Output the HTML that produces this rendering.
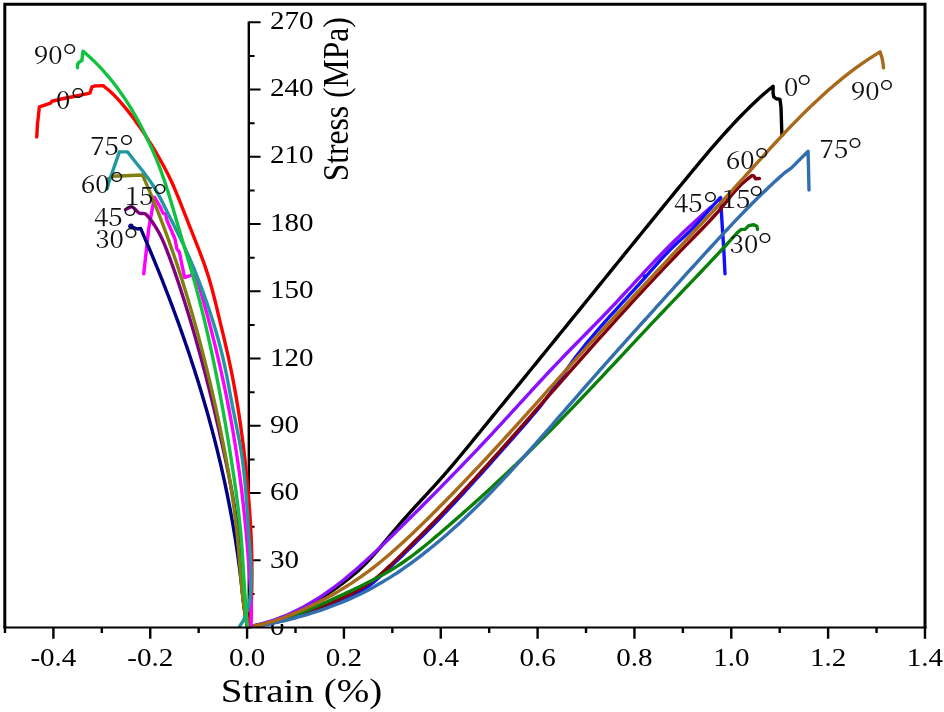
<!DOCTYPE html>
<html lang="en"><head><meta charset="utf-8"><title>Stress-strain curves</title>
<style>html,body{margin:0;padding:0;background:#fff;}svg{display:block;will-change:transform;}.t{font-family:"Liberation Serif","Noto Serif CJK SC",serif;fill:#000;}.a{font-family:"Noto Serif CJK SC","Liberation Serif",serif;font-weight:400;fill:#111;}.d{font-family:"Noto Serif CJK SC","Liberation Serif",serif;font-weight:300;fill:#111;}</style></head><body>
<svg width="944" height="712" viewBox="0 0 944 712">
<rect width="944" height="712" fill="#fff"/>
<defs><clipPath id="z"><rect x="260" y="624" width="40" height="20"/></clipPath></defs>
<text class="t" font-size="25.6" transform="translate(270 567.7) scale(1.135 1)">30</text>
<text class="t" font-size="25.6" transform="translate(270 500.33) scale(1.135 1)">60</text>
<text class="t" font-size="25.6" transform="translate(270 432.95) scale(1.135 1)">90</text>
<text class="t" font-size="25.6" transform="translate(270 365.58) scale(1.135 1)">120</text>
<text class="t" font-size="25.6" transform="translate(270 298.2) scale(1.135 1)">150</text>
<text class="t" font-size="25.6" transform="translate(270 230.83) scale(1.135 1)">180</text>
<text class="t" font-size="25.6" transform="translate(270 163.45) scale(1.135 1)">210</text>
<text class="t" font-size="25.6" transform="translate(270 96.08) scale(1.135 1)">240</text>
<text class="t" font-size="25.6" transform="translate(270 28.7) scale(1.135 1)">270</text>
<g clip-path="url(#z)"><text class="t" font-size="25.6" transform="translate(270 635.08) scale(1.135 1)">0</text></g>
<path d="M248.8 21.4 V627.5" stroke="#000" stroke-width="2.4" fill="none"/>
<path d="M248.8 593.88h5.8M248.8 560.26h11.8M248.8 526.63h5.8M248.8 493.01h11.8M248.8 459.39h5.8M248.8 425.77h11.8M248.8 392.14h5.8M248.8 358.52h11.8M248.8 324.9h5.8M248.8 291.28h11.8M248.8 257.66h5.8M248.8 224.03h11.8M248.8 190.41h5.8M248.8 156.79h11.8M248.8 123.17h5.8M248.8 89.54h11.8M248.8 55.92h5.8M248.8 22.3h11.8" stroke="#000" stroke-width="2" fill="none"/>
<path d="M250 626.5C251.15 626.29 254.6 625.73 256.87 625.26C259.15 624.79 261.42 624.26 263.67 623.69C265.92 623.11 268.16 622.48 270.39 621.81C272.61 621.14 274.82 620.41 277.02 619.65C279.22 618.88 281.4 618.07 283.57 617.21C285.74 616.36 287.9 615.46 290.04 614.53C292.18 613.6 294.31 612.62 296.42 611.62C298.53 610.61 300.63 609.57 302.71 608.49C304.79 607.42 306.86 606.31 308.91 605.17C310.96 604.04 313 602.87 315.02 601.69C317.04 600.5 319.05 599.28 321.03 598.04C323.02 596.8 325 595.54 326.95 594.26C328.91 592.98 330.85 591.68 332.77 590.37C334.7 589.05 336.6 587.72 338.49 586.37C340.38 585.02 342.25 583.65 344.09 582.25C345.94 580.86 347.77 579.44 349.57 577.99C351.37 576.54 353.14 575.07 354.89 573.56C356.64 572.05 358.36 570.51 360.05 568.93C361.75 567.35 363.41 565.74 365.04 564.09C366.67 562.44 368.27 560.75 369.86 559.04C371.44 557.34 373 555.59 374.54 553.84C376.09 552.09 377.61 550.32 379.13 548.54C380.64 546.76 382.14 544.97 383.64 543.18C385.15 541.39 386.64 539.6 388.13 537.82C389.62 536.03 391.11 534.24 392.61 532.46C394.11 530.68 395.6 528.9 397.11 527.13C398.62 525.36 400.13 523.59 401.65 521.83C403.18 520.07 404.72 518.32 406.27 516.57C407.82 514.83 409.38 513.09 410.95 511.36C412.52 509.63 414.09 507.9 415.67 506.17C417.25 504.45 418.84 502.73 420.43 501.01C422.01 499.29 423.6 497.57 425.19 495.85C426.77 494.13 428.36 492.42 429.94 490.7C431.52 488.97 433.09 487.25 434.66 485.52C436.22 483.8 437.78 482.07 439.33 480.33C440.88 478.6 442.41 476.85 443.94 475.11C445.47 473.36 446.99 471.61 448.5 469.86C450.01 468.1 451.51 466.34 453.01 464.58C454.5 462.81 455.99 461.04 457.48 459.27C458.96 457.5 460.44 455.72 461.92 453.94C463.39 452.16 464.86 450.38 466.33 448.6C467.8 446.81 469.27 445.02 470.74 443.23C472.2 441.44 473.66 439.64 475.13 437.85C476.59 436.05 478.06 434.25 479.52 432.45C480.99 430.65 482.45 428.84 483.92 427.04C485.39 425.24 486.87 423.43 488.34 421.62C489.82 419.81 491.3 418 492.78 416.19C494.26 414.38 495.74 412.57 497.22 410.76C498.71 408.95 500.19 407.13 501.68 405.32C503.16 403.51 504.65 401.69 506.14 399.88C507.62 398.07 509.11 396.25 510.59 394.44C512.07 392.63 513.55 390.82 515.04 389C516.52 387.19 518 385.38 519.48 383.57C520.96 381.75 522.44 379.94 523.92 378.13C525.39 376.32 526.87 374.51 528.35 372.7C529.82 370.89 531.3 369.07 532.77 367.26C534.25 365.45 535.72 363.64 537.2 361.83C538.67 360.02 540.14 358.21 541.61 356.4C543.09 354.59 544.56 352.78 546.03 350.97C547.5 349.16 548.97 347.35 550.44 345.55C551.91 343.74 553.38 341.93 554.84 340.12C556.31 338.31 557.78 336.5 559.25 334.69C560.72 332.88 562.18 331.08 563.65 329.27C565.12 327.46 566.58 325.65 568.05 323.84C569.51 322.04 570.98 320.23 572.45 318.42C573.91 316.61 575.38 314.81 576.84 313C578.3 311.19 579.77 309.38 581.23 307.58C582.7 305.77 584.16 303.96 585.63 302.16C587.09 300.35 588.55 298.54 590.02 296.74C591.48 294.93 592.94 293.12 594.41 291.32C595.87 289.51 597.33 287.71 598.8 285.9C600.26 284.09 601.73 282.29 603.19 280.48C604.65 278.68 606.12 276.87 607.58 275.06C609.04 273.26 610.51 271.45 611.97 269.65C613.43 267.84 614.9 266.04 616.36 264.23C617.83 262.43 619.29 260.62 620.76 258.82C622.22 257.01 623.69 255.21 625.15 253.4C626.62 251.6 628.08 249.79 629.55 247.99C631.02 246.18 632.48 244.38 633.95 242.57C635.41 240.77 636.88 238.97 638.35 237.16C639.82 235.36 641.29 233.55 642.75 231.75C644.22 229.94 645.69 228.14 647.16 226.33C648.63 224.53 650.1 222.73 651.57 220.92C653.04 219.12 654.51 217.31 655.99 215.51C657.46 213.71 658.93 211.9 660.41 210.1C661.88 208.29 663.35 206.49 664.83 204.69C666.3 202.88 667.78 201.08 669.25 199.27C670.73 197.47 672.21 195.67 673.69 193.86C675.17 192.06 676.64 190.25 678.12 188.45C679.6 186.65 681.09 184.84 682.57 183.04C684.05 181.23 685.53 179.43 687.02 177.63C688.5 175.82 689.98 174.02 691.47 172.22C692.96 170.42 694.45 168.61 695.94 166.82C697.43 165.02 698.93 163.22 700.43 161.43C701.93 159.64 703.43 157.85 704.94 156.06C706.44 154.28 707.95 152.5 709.47 150.72C710.99 148.95 712.51 147.18 714.03 145.42C715.56 143.65 717.09 141.89 718.63 140.14C720.17 138.39 721.72 136.65 723.27 134.92C724.82 133.18 726.38 131.45 727.95 129.74C729.52 128.02 731.09 126.31 732.68 124.61C734.26 122.91 735.86 121.22 737.46 119.54C739.06 117.87 740.67 116.2 742.3 114.55C743.92 112.89 745.55 111.25 747.19 109.62C748.84 107.99 750.49 106.37 752.16 104.77C753.83 103.16 755.5 101.57 757.2 100C758.9 98.42 760.61 96.86 762.35 95.32C764.09 93.77 765.85 92.25 767.64 90.73C769.43 89.22 772.19 87 773.1 86.25L773.1 93.1L773.75 96.9L776.25 98.75L780 99.4L781 107.5L781.9 135" fill="none" stroke="#000000" stroke-width="3.4" stroke-linejoin="round" stroke-linecap="round"/>
<path d="M250 626.5C251.18 626.25 254.73 625.54 257.06 624.99C259.39 624.44 261.69 623.85 263.97 623.21C266.25 622.57 268.51 621.89 270.74 621.17C272.98 620.45 275.19 619.68 277.38 618.88C279.57 618.08 281.73 617.23 283.88 616.35C286.02 615.47 288.15 614.55 290.25 613.6C292.36 612.65 294.44 611.66 296.51 610.63C298.57 609.61 300.62 608.55 302.64 607.46C304.67 606.37 306.68 605.25 308.67 604.09C310.66 602.94 312.64 601.76 314.6 600.55C316.56 599.34 318.5 598.1 320.42 596.83C322.35 595.56 324.26 594.27 326.16 592.95C328.05 591.64 329.93 590.29 331.8 588.93C333.67 587.56 335.52 586.17 337.36 584.77C339.21 583.36 341.03 581.93 342.85 580.48C344.67 579.03 346.47 577.56 348.27 576.08C350.06 574.59 351.84 573.09 353.62 571.57C355.39 570.05 357.15 568.52 358.91 566.97C360.66 565.42 362.41 563.86 364.14 562.29C365.88 560.72 367.61 559.13 369.33 557.54C371.05 555.95 372.77 554.34 374.48 552.73C376.19 551.12 377.89 549.5 379.59 547.87C381.28 546.25 382.97 544.62 384.66 542.98C386.35 541.35 388.03 539.7 389.71 538.06C391.39 536.42 393.06 534.77 394.74 533.13C396.41 531.48 398.08 529.84 399.75 528.19C401.42 526.55 403.09 524.9 404.75 523.26C406.41 521.61 408.08 519.96 409.74 518.32C411.4 516.67 413.05 515.03 414.71 513.38C416.36 511.73 418.02 510.08 419.67 508.44C421.32 506.79 422.97 505.14 424.61 503.49C426.26 501.84 427.9 500.19 429.55 498.54C431.19 496.89 432.83 495.24 434.47 493.58C436.1 491.93 437.74 490.27 439.37 488.62C441 486.96 442.64 485.31 444.26 483.65C445.89 481.99 447.52 480.33 449.14 478.67C450.77 477.01 452.39 475.34 454.01 473.68C455.63 472.01 457.25 470.35 458.86 468.68C460.48 467.01 462.09 465.34 463.7 463.66C465.31 461.99 466.92 460.32 468.53 458.64C470.14 456.96 471.74 455.28 473.34 453.6C474.95 451.92 476.55 450.23 478.15 448.55C479.74 446.86 481.34 445.17 482.93 443.48C484.53 441.79 486.12 440.09 487.71 438.39C489.3 436.69 490.88 434.99 492.47 433.29C494.05 431.58 495.64 429.88 497.22 428.17C498.8 426.46 500.38 424.74 501.96 423.03C503.53 421.31 505.11 419.6 506.69 417.88C508.26 416.16 509.84 414.44 511.41 412.72C512.99 411 514.56 409.28 516.13 407.55C517.71 405.83 519.28 404.11 520.86 402.38C522.43 400.66 524.01 398.94 525.58 397.22C527.16 395.49 528.74 393.77 530.31 392.05C531.89 390.33 533.47 388.61 535.06 386.89C536.64 385.17 538.22 383.45 539.81 381.74C541.39 380.02 542.98 378.31 544.57 376.6C546.16 374.89 547.76 373.18 549.35 371.48C550.95 369.78 552.55 368.07 554.16 366.38C555.76 364.68 557.37 362.99 558.98 361.3C560.59 359.61 562.21 357.92 563.83 356.24C565.45 354.56 567.07 352.89 568.7 351.21C570.33 349.54 571.96 347.87 573.6 346.21C575.23 344.54 576.87 342.88 578.5 341.22C580.14 339.55 581.78 337.9 583.42 336.24C585.05 334.58 586.69 332.92 588.33 331.26C589.96 329.6 591.6 327.94 593.23 326.28C594.87 324.61 596.5 322.95 598.12 321.28C599.75 319.62 601.37 317.95 602.99 316.28C604.61 314.6 606.22 312.93 607.83 311.25C609.43 309.56 611.04 307.88 612.63 306.19C614.23 304.5 615.82 302.81 617.41 301.11C619 299.41 620.58 297.71 622.16 296.01C623.74 294.31 625.32 292.61 626.9 290.9C628.48 289.2 630.05 287.49 631.63 285.78C633.21 284.08 634.79 282.37 636.36 280.66C637.94 278.96 639.52 277.25 641.1 275.55C642.68 273.85 644.27 272.14 645.85 270.44C647.44 268.74 649.03 267.04 650.63 265.35C652.22 263.65 653.82 261.96 655.43 260.28C657.04 258.59 658.65 256.9 660.27 255.23C661.89 253.55 663.51 251.88 665.15 250.21C666.78 248.54 668.43 246.88 670.08 245.22C671.73 243.57 673.39 241.92 675.07 240.28C676.74 238.64 678.42 237.01 680.12 235.39C681.81 233.76 683.51 232.14 685.22 230.54C686.93 228.93 688.65 227.33 690.36 225.73C692.08 224.14 693.81 222.56 695.53 220.98C697.25 219.4 698.98 217.83 700.7 216.27C702.42 214.71 704.15 213.16 705.86 211.61C707.58 210.07 710.14 207.77 711 207" fill="none" stroke="#8a10ff" stroke-width="3.4" stroke-linejoin="round" stroke-linecap="round"/>
<path d="M250 626.5C251.17 626.37 254.7 626.03 257.03 625.72C259.36 625.41 261.67 625.05 263.97 624.65C266.28 624.25 268.56 623.8 270.84 623.32C273.12 622.84 275.39 622.31 277.65 621.75C279.91 621.2 282.16 620.61 284.41 619.99C286.65 619.37 288.88 618.71 291.11 618.04C293.34 617.37 295.56 616.66 297.78 615.94C300 615.22 302.21 614.48 304.42 613.72C306.63 612.97 308.84 612.19 311.04 611.41C313.24 610.62 315.45 609.83 317.65 609.02C319.85 608.22 322.05 607.41 324.25 606.6C326.46 605.79 328.66 604.97 330.87 604.16C333.07 603.35 335.29 602.55 337.49 601.73C339.69 600.91 341.9 600.09 344.08 599.23C346.25 598.36 348.42 597.49 350.55 596.54C352.67 595.6 354.78 594.62 356.83 593.55C358.88 592.48 360.9 591.35 362.85 590.13C364.8 588.9 366.69 587.58 368.55 586.2C370.41 584.82 372.21 583.35 373.99 581.85C375.78 580.35 377.52 578.79 379.25 577.21C380.99 575.64 382.69 574.03 384.4 572.42C386.11 570.82 387.82 569.2 389.52 567.59C391.23 565.98 392.93 564.37 394.63 562.76C396.33 561.14 398.03 559.53 399.72 557.92C401.42 556.3 403.11 554.69 404.8 553.07C406.48 551.45 408.17 549.83 409.85 548.2C411.53 546.58 413.21 544.95 414.88 543.32C416.55 541.69 418.22 540.05 419.88 538.41C421.54 536.77 423.2 535.12 424.85 533.47C426.5 531.82 428.14 530.16 429.78 528.5C431.42 526.84 433.06 525.17 434.69 523.5C436.32 521.83 437.95 520.16 439.57 518.48C441.19 516.8 442.8 515.11 444.42 513.43C446.03 511.74 447.64 510.04 449.24 508.35C450.85 506.65 452.45 504.95 454.04 503.25C455.64 501.55 457.23 499.84 458.82 498.13C460.41 496.42 462 494.71 463.58 492.99C465.17 491.27 466.75 489.56 468.32 487.83C469.9 486.11 471.47 484.39 473.05 482.66C474.62 480.93 476.19 479.2 477.75 477.47C479.32 475.74 480.89 474.01 482.45 472.27C484.01 470.53 485.57 468.8 487.13 467.06C488.69 465.32 490.25 463.58 491.8 461.83C493.36 460.09 494.91 458.35 496.47 456.6C498.02 454.86 499.57 453.11 501.12 451.37C502.68 449.62 504.23 447.87 505.78 446.12C507.33 444.37 508.88 442.62 510.42 440.88C511.97 439.13 513.52 437.38 515.07 435.63C516.62 433.88 518.17 432.13 519.72 430.38C521.26 428.63 522.81 426.88 524.35 425.12C525.89 423.36 527.43 421.61 528.96 419.84C530.48 418.07 532 416.3 533.5 414.51C535.01 412.73 536.5 410.94 537.97 409.13C539.45 407.32 540.91 405.5 542.34 403.66C543.78 401.82 545.19 399.97 546.59 398.1C547.98 396.23 549.35 394.34 550.71 392.44C552.07 390.54 553.4 388.63 554.74 386.71C556.07 384.8 557.39 382.87 558.72 380.95C560.04 379.03 561.36 377.1 562.69 375.18C564.02 373.25 565.34 371.33 566.69 369.42C568.03 367.52 569.38 365.61 570.75 363.72C572.13 361.84 573.51 359.96 574.92 358.1C576.32 356.24 577.74 354.39 579.18 352.55C580.61 350.71 582.06 348.89 583.52 347.07C584.98 345.25 586.46 343.45 587.94 341.65C589.43 339.85 590.93 338.06 592.43 336.28C593.94 334.5 595.46 332.73 596.99 330.96C598.51 329.19 600.05 327.44 601.59 325.68C603.13 323.93 604.68 322.18 606.23 320.43C607.79 318.69 609.35 316.95 610.91 315.21C612.48 313.48 614.05 311.75 615.62 310.02C617.19 308.28 618.76 306.56 620.34 304.83C621.91 303.1 623.49 301.38 625.07 299.65C626.64 297.92 628.22 296.2 629.79 294.47C631.37 292.74 632.94 291.01 634.51 289.28C636.08 287.55 637.65 285.82 639.21 284.08C640.77 282.35 642.33 280.61 643.88 278.86C645.43 277.12 646.98 275.37 648.52 273.62C650.06 271.87 651.6 270.11 653.14 268.36C654.69 266.61 656.23 264.87 657.78 263.13C659.34 261.4 660.89 259.66 662.47 257.95C664.05 256.24 665.64 254.54 667.25 252.86C668.86 251.18 670.48 249.52 672.14 247.88C673.79 246.25 675.48 244.64 677.18 243.05C678.88 241.46 680.63 239.92 682.35 238.34C684.07 236.76 685.8 235.2 687.48 233.59C689.17 231.97 690.82 230.33 692.44 228.66C694.07 226.98 695.66 225.28 697.23 223.56C698.81 221.84 700.35 220.1 701.9 218.35C703.44 216.61 704.95 214.84 706.48 213.09C708 211.33 709.51 209.57 711.05 207.82C712.59 206.08 714.12 204.33 715.71 202.61C717.31 200.89 719.79 198.35 720.6 197.5L721.25 210L722.5 230L723.75 249L725 273.75" fill="none" stroke="#1010ff" stroke-width="3.4" stroke-linejoin="round" stroke-linecap="round"/>
<path d="M250 626.5C251.16 626.31 254.66 625.77 256.98 625.38C259.3 624.99 261.6 624.59 263.9 624.16C266.2 623.73 268.48 623.28 270.76 622.81C273.04 622.34 275.32 621.84 277.58 621.32C279.84 620.79 282.1 620.24 284.35 619.66C286.6 619.08 288.85 618.47 291.09 617.82C293.33 617.18 295.56 616.5 297.79 615.78C300.02 615.07 302.25 614.31 304.47 613.52C306.69 612.73 308.91 611.89 311.12 611.03C313.34 610.18 315.54 609.28 317.74 608.39C319.94 607.49 322.13 606.56 324.31 605.64C326.49 604.72 328.66 603.79 330.81 602.87C332.97 601.96 335.11 601.05 337.23 600.14C339.36 599.23 341.47 598.34 343.56 597.41C345.65 596.48 347.73 595.54 349.78 594.56C351.83 593.57 353.86 592.57 355.87 591.5C357.88 590.42 359.86 589.31 361.82 588.11C363.78 586.92 365.72 585.65 367.63 584.32C369.54 583 371.42 581.6 373.29 580.16C375.15 578.72 376.99 577.22 378.81 575.69C380.64 574.16 382.44 572.58 384.22 570.98C386.01 569.38 387.77 567.74 389.52 566.1C391.27 564.46 393.01 562.78 394.73 561.12C396.45 559.45 398.16 557.77 399.85 556.1C401.55 554.44 403.23 552.77 404.91 551.12C406.58 549.47 408.25 547.83 409.9 546.2C411.56 544.56 413.21 542.93 414.85 541.3C416.5 539.67 418.14 538.05 419.77 536.41C421.41 534.78 423.04 533.15 424.67 531.5C426.29 529.86 427.92 528.21 429.54 526.56C431.17 524.91 432.79 523.25 434.41 521.59C436.02 519.92 437.64 518.26 439.25 516.58C440.87 514.91 442.48 513.24 444.08 511.56C445.69 509.88 447.3 508.19 448.9 506.5C450.5 504.81 452.11 503.12 453.7 501.42C455.3 499.72 456.9 498.02 458.49 496.32C460.09 494.61 461.68 492.91 463.27 491.19C464.86 489.48 466.45 487.77 468.03 486.05C469.62 484.33 471.2 482.61 472.79 480.89C474.37 479.16 475.95 477.44 477.53 475.71C479.11 473.98 480.68 472.25 482.26 470.51C483.83 468.78 485.41 467.04 486.98 465.3C488.55 463.56 490.12 461.82 491.69 460.08C493.26 458.34 494.82 456.59 496.39 454.84C497.95 453.1 499.52 451.35 501.08 449.6C502.64 447.85 504.2 446.1 505.76 444.35C507.32 442.59 508.88 440.84 510.44 439.09C512 437.33 513.56 435.58 515.11 433.82C516.67 432.06 518.22 430.31 519.77 428.55C521.33 426.79 522.88 425.04 524.43 423.28C525.98 421.52 527.53 419.76 529.08 418C530.63 416.24 532.18 414.49 533.73 412.73C535.28 410.97 536.83 409.21 538.37 407.45C539.92 405.7 541.47 403.94 543.01 402.18C544.56 400.43 546.1 398.67 547.65 396.92C549.19 395.16 550.74 393.4 552.28 391.65C553.83 389.9 555.37 388.14 556.92 386.39C558.46 384.63 560 382.88 561.55 381.13C563.09 379.38 564.64 377.63 566.18 375.87C567.73 374.12 569.27 372.37 570.82 370.62C572.36 368.88 573.91 367.13 575.46 365.38C577 363.63 578.55 361.88 580.1 360.14C581.64 358.39 583.19 356.65 584.74 354.9C586.29 353.16 587.84 351.41 589.39 349.67C590.94 347.93 592.49 346.19 594.05 344.44C595.6 342.7 597.15 340.96 598.71 339.22C600.26 337.49 601.82 335.75 603.38 334.01C604.93 332.28 606.49 330.54 608.05 328.81C609.62 327.07 611.18 325.34 612.74 323.61C614.31 321.87 615.87 320.14 617.44 318.41C619.01 316.68 620.57 314.95 622.15 313.23C623.72 311.5 625.29 309.77 626.87 308.05C628.44 306.32 630.02 304.6 631.6 302.88C633.18 301.16 634.76 299.44 636.34 297.72C637.93 296 639.51 294.28 641.1 292.57C642.69 290.85 644.28 289.13 645.88 287.42C647.47 285.71 649.07 284 650.67 282.29C652.27 280.58 653.87 278.87 655.47 277.16C657.08 275.45 658.69 273.75 660.3 272.05C661.91 270.34 663.53 268.64 665.14 266.94C666.76 265.24 668.38 263.54 670.01 261.85C671.63 260.15 673.26 258.45 674.89 256.76C676.52 255.07 678.15 253.38 679.79 251.69C681.43 250 683.07 248.31 684.72 246.63C686.36 244.94 688.02 243.26 689.67 241.58C691.32 239.89 692.98 238.21 694.63 236.53C696.28 234.85 697.93 233.17 699.57 231.49C701.21 229.8 702.84 228.12 704.46 226.43C706.08 224.74 707.69 223.05 709.28 221.35C710.87 219.65 712.44 217.95 713.99 216.24C715.53 214.52 717.06 212.81 718.56 211.08C720.05 209.35 721.51 207.62 722.96 205.87C724.41 204.12 725.8 202.37 727.23 200.6C728.67 198.83 730.08 197.05 731.56 195.25C733.04 193.46 734.53 191.62 736.13 189.82C737.72 188.03 739.36 186.15 741.12 184.48C742.89 182.81 744.9 181.28 746.7 179.8C748.5 178.32 751.03 176.3 751.9 175.6L753.75 176L755.6 178.75L759.4 178.5" fill="none" stroke="#80000f" stroke-width="3.4" stroke-linejoin="round" stroke-linecap="round"/>
<path d="M250 626.5C251.16 626.34 254.64 625.91 256.94 625.54C259.24 625.17 261.53 624.74 263.81 624.27C266.09 623.8 268.35 623.28 270.61 622.72C272.87 622.16 275.12 621.56 277.36 620.92C279.6 620.28 281.83 619.6 284.05 618.89C286.27 618.18 288.49 617.43 290.69 616.65C292.9 615.88 295.1 615.07 297.29 614.25C299.48 613.42 301.67 612.56 303.85 611.69C306.03 610.82 308.2 609.92 310.37 609.01C312.54 608.1 314.7 607.17 316.86 606.23C319.01 605.3 321.17 604.34 323.32 603.39C325.47 602.43 327.61 601.47 329.76 600.5C331.9 599.54 334.04 598.57 336.18 597.6C338.31 596.63 340.45 595.65 342.58 594.68C344.71 593.7 346.83 592.72 348.95 591.73C351.07 590.75 353.18 589.75 355.29 588.75C357.4 587.75 359.5 586.73 361.59 585.71C363.68 584.69 365.76 583.65 367.83 582.6C369.91 581.56 371.97 580.5 374.02 579.42C376.07 578.34 378.12 577.25 380.15 576.13C382.18 575.02 384.2 573.89 386.2 572.74C388.2 571.59 390.2 570.42 392.17 569.22C394.15 568.03 396.12 566.82 398.06 565.57C400.01 564.32 401.94 563.04 403.86 561.73C405.77 560.42 407.67 559.07 409.56 557.7C411.44 556.33 413.31 554.92 415.17 553.5C417.03 552.08 418.88 550.63 420.71 549.17C422.55 547.7 424.37 546.22 426.19 544.72C428.01 543.23 429.82 541.72 431.62 540.2C433.42 538.69 435.21 537.16 437 535.63C438.79 534.11 440.58 532.57 442.36 531.04C444.14 529.51 445.91 527.98 447.69 526.45C449.46 524.92 451.23 523.39 452.99 521.85C454.76 520.32 456.52 518.78 458.28 517.25C460.03 515.71 461.79 514.17 463.54 512.63C465.28 511.09 467.03 509.55 468.77 508.01C470.52 506.46 472.25 504.92 473.99 503.37C475.72 501.82 477.46 500.26 479.18 498.71C480.91 497.15 482.64 495.59 484.36 494.03C486.08 492.46 487.79 490.9 489.51 489.33C491.22 487.75 492.93 486.18 494.64 484.6C496.35 483.02 498.05 481.43 499.75 479.84C501.45 478.25 503.15 476.66 504.84 475.06C506.54 473.46 508.23 471.86 509.92 470.25C511.6 468.64 513.29 467.03 514.97 465.41C516.65 463.8 518.33 462.18 520.01 460.55C521.68 458.93 523.35 457.3 525.02 455.67C526.69 454.04 528.36 452.4 530.02 450.77C531.69 449.13 533.35 447.49 535.01 445.84C536.66 444.2 538.32 442.55 539.97 440.9C541.63 439.24 543.28 437.59 544.92 435.93C546.57 434.27 548.22 432.61 549.86 430.95C551.5 429.29 553.14 427.62 554.78 425.95C556.41 424.28 558.05 422.61 559.68 420.94C561.31 419.26 562.94 417.59 564.57 415.91C566.2 414.23 567.82 412.55 569.45 410.87C571.07 409.18 572.69 407.5 574.31 405.81C575.93 404.13 577.54 402.44 579.16 400.75C580.77 399.06 582.38 397.37 583.99 395.67C585.6 393.98 587.21 392.29 588.82 390.59C590.42 388.89 592.03 387.2 593.63 385.5C595.23 383.8 596.84 382.1 598.44 380.4C600.04 378.7 601.64 377 603.23 375.3C604.83 373.6 606.43 371.89 608.02 370.19C609.62 368.49 611.22 366.78 612.81 365.08C614.41 363.37 616 361.67 617.59 359.97C619.19 358.26 620.78 356.56 622.37 354.85C623.97 353.15 625.56 351.44 627.15 349.74C628.75 348.03 630.34 346.33 631.94 344.62C633.53 342.92 635.12 341.21 636.72 339.51C638.31 337.81 639.91 336.1 641.51 334.4C643.1 332.7 644.7 331 646.3 329.3C647.9 327.6 649.5 325.9 651.1 324.2C652.7 322.5 654.3 320.8 655.9 319.11C657.5 317.41 659.11 315.72 660.72 314.02C662.32 312.33 663.93 310.64 665.54 308.95C667.15 307.26 668.76 305.57 670.37 303.88C671.99 302.19 673.6 300.5 675.21 298.82C676.83 297.13 678.44 295.44 680.05 293.75C681.67 292.07 683.28 290.38 684.9 288.69C686.51 287.01 688.13 285.32 689.74 283.63C691.35 281.94 692.96 280.26 694.58 278.57C696.19 276.88 697.8 275.19 699.4 273.5C701.01 271.81 702.62 270.11 704.23 268.42C705.83 266.72 707.43 265.03 709.03 263.33C710.63 261.63 712.23 259.94 713.83 258.23C715.42 256.53 717.02 254.83 718.61 253.12C720.2 251.42 721.78 249.71 723.36 247.99C724.95 246.28 726.53 244.57 728.1 242.85C729.68 241.13 731.25 239.41 732.81 237.69C734.38 235.96 736.72 233.36 737.5 232.5L741.25 229.4L745 229.4L748.75 225.6L753.75 224.75L756.9 226.25L757.5 229.4" fill="none" stroke="#0a800a" stroke-width="3.4" stroke-linejoin="round" stroke-linecap="round"/>
<path d="M250 626.5C251.18 626.37 254.71 626.04 257.06 625.75C259.41 625.46 261.75 625.12 264.08 624.76C266.41 624.39 268.74 623.98 271.06 623.55C273.38 623.11 275.69 622.64 277.99 622.14C280.29 621.64 282.59 621.11 284.88 620.56C287.17 620.01 289.45 619.43 291.72 618.84C293.99 618.24 296.25 617.62 298.51 616.98C300.77 616.35 303.02 615.69 305.26 615.03C307.49 614.36 309.73 613.68 311.95 612.98C314.17 612.28 316.39 611.57 318.59 610.84C320.8 610.11 323 609.36 325.19 608.59C327.38 607.83 329.56 607.04 331.73 606.23C333.9 605.43 336.06 604.6 338.21 603.75C340.37 602.9 342.51 602.04 344.64 601.14C346.78 600.25 348.9 599.33 351.02 598.39C353.14 597.45 355.24 596.48 357.34 595.49C359.44 594.5 361.52 593.48 363.6 592.43C365.68 591.39 367.74 590.31 369.8 589.21C371.86 588.11 373.91 586.99 375.94 585.84C377.98 584.69 380.01 583.51 382.02 582.32C384.04 581.12 386.05 579.9 388.04 578.66C390.04 577.42 392.02 576.15 394 574.87C395.97 573.59 397.94 572.29 399.89 570.97C401.84 569.64 403.79 568.3 405.72 566.95C407.65 565.59 409.57 564.22 411.48 562.83C413.39 561.44 415.28 560.04 417.17 558.62C419.06 557.2 420.93 555.77 422.79 554.32C424.66 552.88 426.51 551.42 428.35 549.95C430.19 548.48 432.02 547 433.84 545.51C435.65 544.02 437.46 542.52 439.25 541.01C441.05 539.5 442.83 537.97 444.61 536.44C446.38 534.91 448.15 533.37 449.9 531.82C451.66 530.26 453.4 528.7 455.14 527.13C456.87 525.56 458.6 523.98 460.31 522.4C462.03 520.81 463.74 519.21 465.44 517.61C467.14 516 468.83 514.39 470.51 512.77C472.2 511.14 473.87 509.52 475.54 507.88C477.21 506.24 478.87 504.6 480.52 502.95C482.18 501.3 483.82 499.64 485.46 497.97C487.1 496.31 488.74 494.64 490.36 492.96C491.99 491.28 493.61 489.6 495.23 487.91C496.84 486.22 498.45 484.52 500.06 482.82C501.66 481.12 503.26 479.42 504.86 477.7C506.45 475.99 508.04 474.28 509.63 472.56C511.21 470.84 512.8 469.11 514.37 467.38C515.95 465.65 517.53 463.92 519.1 462.18C520.67 460.45 522.24 458.7 523.8 456.96C525.36 455.22 526.93 453.47 528.48 451.72C530.04 449.97 531.6 448.21 533.15 446.46C534.71 444.7 536.26 442.95 537.81 441.19C539.36 439.43 540.91 437.66 542.45 435.9C544 434.14 545.54 432.37 547.09 430.6C548.63 428.84 550.17 427.07 551.71 425.3C553.25 423.53 554.79 421.76 556.33 419.99C557.87 418.22 559.41 416.45 560.95 414.68C562.49 412.91 564.02 411.14 565.56 409.37C567.1 407.6 568.64 405.83 570.18 404.06C571.71 402.3 573.25 400.53 574.79 398.76C576.33 397 577.87 395.23 579.42 393.47C580.96 391.7 582.5 389.94 584.04 388.18C585.59 386.42 587.13 384.66 588.67 382.9C590.22 381.14 591.77 379.38 593.31 377.63C594.86 375.87 596.41 374.11 597.96 372.36C599.51 370.61 601.06 368.85 602.61 367.1C604.16 365.35 605.72 363.6 607.27 361.85C608.83 360.09 610.38 358.35 611.94 356.6C613.5 354.85 615.06 353.1 616.62 351.35C618.18 349.61 619.74 347.86 621.3 346.12C622.86 344.37 624.42 342.63 625.99 340.88C627.55 339.14 629.11 337.4 630.68 335.66C632.24 333.91 633.81 332.17 635.37 330.43C636.94 328.69 638.5 326.95 640.07 325.21C641.63 323.47 643.2 321.74 644.77 320C646.33 318.26 647.9 316.52 649.46 314.79C651.03 313.05 652.59 311.31 654.16 309.58C655.72 307.84 657.29 306.11 658.85 304.37C660.42 302.64 661.98 300.9 663.55 299.17C665.11 297.44 666.68 295.7 668.24 293.97C669.81 292.24 671.37 290.51 672.94 288.77C674.51 287.04 676.07 285.31 677.64 283.58C679.21 281.85 680.78 280.11 682.34 278.38C683.91 276.65 685.48 274.92 687.05 273.19C688.63 271.46 690.2 269.73 691.77 268C693.34 266.27 694.92 264.54 696.5 262.81C698.07 261.08 699.65 259.35 701.23 257.62C702.81 255.89 704.39 254.16 705.97 252.43C707.55 250.7 709.13 248.97 710.72 247.24C712.31 245.51 713.89 243.78 715.48 242.06C717.07 240.33 718.67 238.6 720.26 236.88C721.86 235.15 723.46 233.43 725.06 231.71C726.66 229.99 728.27 228.27 729.88 226.56C731.49 224.85 733.1 223.14 734.72 221.43C736.34 219.73 737.96 218.03 739.58 216.33C741.21 214.64 742.84 212.95 744.48 211.27C746.12 209.58 747.76 207.91 749.4 206.24C751.05 204.57 752.71 202.9 754.36 201.25C756.02 199.59 757.69 197.95 759.36 196.31C761.03 194.67 762.71 193.04 764.4 191.42C766.09 189.8 767.78 188.19 769.48 186.59C771.18 184.99 772.89 183.4 774.6 181.83C776.32 180.25 778.04 178.68 779.78 177.13C781.51 175.57 784.13 173.27 785 172.5L791.25 168.1L808.1 151.25L809 190" fill="none" stroke="#336fae" stroke-width="3.4" stroke-linejoin="round" stroke-linecap="round"/>
<path d="M250 626.5C251.17 626.31 254.68 625.78 256.99 625.34C259.31 624.89 261.62 624.38 263.91 623.82C266.2 623.26 268.48 622.64 270.74 621.98C273 621.32 275.26 620.6 277.49 619.85C279.73 619.11 281.95 618.31 284.16 617.49C286.37 616.66 288.57 615.8 290.75 614.91C292.94 614.03 295.11 613.11 297.27 612.17C299.42 611.23 301.57 610.27 303.7 609.29C305.83 608.32 307.95 607.32 310.05 606.32C312.16 605.31 314.25 604.29 316.33 603.24C318.41 602.2 320.47 601.15 322.53 600.07C324.58 599 326.62 597.91 328.65 596.8C330.68 595.69 332.69 594.56 334.69 593.41C336.7 592.27 338.68 591.1 340.66 589.91C342.64 588.73 344.6 587.52 346.55 586.3C348.51 585.07 350.45 583.83 352.37 582.56C354.3 581.29 356.21 580 358.12 578.69C360.02 577.38 361.91 576.05 363.78 574.69C365.66 573.34 367.53 571.96 369.38 570.57C371.23 569.17 373.08 567.75 374.91 566.31C376.74 564.88 378.56 563.42 380.37 561.95C382.18 560.47 383.98 558.98 385.77 557.48C387.56 555.97 389.34 554.45 391.11 552.92C392.88 551.38 394.64 549.83 396.4 548.27C398.15 546.71 399.9 545.13 401.63 543.55C403.37 541.96 405.1 540.37 406.83 538.76C408.55 537.16 410.26 535.55 411.97 533.92C413.68 532.3 415.38 530.67 417.08 529.04C418.78 527.41 420.47 525.77 422.15 524.12C423.84 522.48 425.52 520.83 427.19 519.18C428.87 517.53 430.54 515.87 432.21 514.22C433.87 512.56 435.53 510.9 437.19 509.24C438.85 507.58 440.5 505.92 442.15 504.25C443.8 502.59 445.45 500.92 447.09 499.25C448.73 497.58 450.36 495.9 452 494.23C453.63 492.55 455.26 490.88 456.89 489.2C458.51 487.52 460.14 485.84 461.76 484.15C463.38 482.47 464.99 480.78 466.6 479.09C468.22 477.41 469.83 475.72 471.43 474.02C473.04 472.33 474.64 470.64 476.24 468.94C477.85 467.24 479.44 465.54 481.04 463.84C482.63 462.14 484.23 460.44 485.82 458.73C487.41 457.03 489 455.32 490.58 453.61C492.17 451.9 493.75 450.19 495.33 448.48C496.91 446.76 498.49 445.05 500.07 443.33C501.65 441.62 503.22 439.9 504.8 438.18C506.37 436.45 507.94 434.73 509.51 433.01C511.08 431.28 512.65 429.56 514.22 427.83C515.79 426.1 517.35 424.37 518.92 422.64C520.48 420.91 522.05 419.17 523.61 417.44C525.18 415.7 526.74 413.97 528.3 412.23C529.86 410.5 531.42 408.76 532.98 407.02C534.54 405.28 536.1 403.54 537.66 401.8C539.22 400.06 540.78 398.32 542.33 396.58C543.89 394.84 545.45 393.1 547.01 391.35C548.57 389.61 550.12 387.87 551.68 386.13C553.24 384.39 554.8 382.64 556.36 380.9C557.92 379.16 559.48 377.42 561.03 375.68C562.59 373.94 564.15 372.19 565.71 370.45C567.28 368.71 568.84 366.98 570.4 365.24C571.96 363.5 573.52 361.76 575.09 360.02C576.65 358.29 578.22 356.55 579.78 354.82C581.35 353.08 582.92 351.35 584.49 349.62C586.05 347.89 587.63 346.16 589.2 344.43C590.77 342.7 592.34 340.98 593.92 339.25C595.49 337.53 597.07 335.8 598.65 334.08C600.22 332.36 601.8 330.64 603.38 328.92C604.96 327.2 606.54 325.48 608.13 323.77C609.71 322.05 611.29 320.33 612.88 318.62C614.46 316.91 616.05 315.19 617.64 313.48C619.22 311.77 620.81 310.06 622.4 308.35C623.99 306.64 625.58 304.93 627.17 303.22C628.76 301.51 630.35 299.8 631.94 298.09C633.53 296.38 635.12 294.68 636.71 292.97C638.31 291.27 639.9 289.56 641.49 287.85C643.09 286.15 644.68 284.44 646.28 282.74C647.87 281.03 649.47 279.33 651.06 277.63C652.66 275.92 654.25 274.22 655.85 272.51C657.44 270.81 659.04 269.11 660.64 267.4C662.23 265.7 663.83 264 665.43 262.29C667.02 260.59 668.62 258.88 670.21 257.18C671.81 255.48 673.41 253.77 675 252.07C676.6 250.36 678.19 248.66 679.79 246.95C681.38 245.24 682.98 243.54 684.57 241.83C686.17 240.13 687.76 238.42 689.36 236.71C690.95 235 692.54 233.29 694.14 231.58C695.73 229.87 697.32 228.16 698.91 226.45C700.51 224.74 702.1 223.03 703.69 221.32C705.28 219.6 706.87 217.89 708.46 216.17C710.04 214.46 711.63 212.74 713.22 211.02C714.81 209.31 716.39 207.59 717.98 205.87C719.56 204.15 721.15 202.43 722.73 200.7C724.31 198.98 725.89 197.26 727.47 195.53C729.05 193.8 730.63 192.08 732.21 190.35C733.79 188.62 735.37 186.89 736.94 185.15C738.52 183.42 740.09 181.69 741.66 179.95C743.24 178.21 744.81 176.48 746.38 174.74C747.95 173 749.52 171.26 751.09 169.52C752.66 167.78 754.23 166.04 755.8 164.3C757.37 162.56 758.94 160.82 760.51 159.08C762.08 157.34 763.65 155.6 765.23 153.87C766.81 152.14 768.38 150.4 769.97 148.68C771.55 146.95 773.13 145.22 774.72 143.5C776.31 141.78 777.9 140.06 779.49 138.35C781.09 136.64 782.69 134.93 784.29 133.23C785.89 131.53 787.5 129.84 789.12 128.15C790.73 126.46 792.36 124.77 793.98 123.1C795.61 121.43 797.24 119.76 798.89 118.1C800.53 116.44 802.17 114.79 803.83 113.15C805.49 111.51 807.15 109.87 808.82 108.25C810.5 106.63 812.18 105.02 813.87 103.41C815.56 101.81 817.26 100.22 818.97 98.64C820.68 97.06 822.4 95.49 824.13 93.94C825.86 92.39 827.6 90.84 829.35 89.31C831.11 87.79 832.87 86.27 834.65 84.77C836.42 83.27 838.21 81.78 840.02 80.31C841.82 78.84 843.63 77.38 845.46 75.94C847.29 74.5 849.13 73.07 850.99 71.66C852.84 70.25 854.71 68.86 856.6 67.49C858.49 66.11 860.39 64.76 862.3 63.42C864.22 62.08 866.15 60.76 868.1 59.46C870.05 58.16 872.02 56.88 874 55.62C875.98 54.36 879 52.52 880 51.9L881.9 57.5L883.1 63.75L883.5 67.75" fill="none" stroke="#a8691b" stroke-width="3.4" stroke-linejoin="round" stroke-linecap="round"/>
<path d="M36.75 137L37.5 124L39.4 106.9L50.6 103.1L51.9 101.25L62.5 98.75L75 96.25L90 93.1L91.9 86.9L95 85.9L103.1 85.6C104.05 86.38 106.99 88.7 108.81 90.29C110.62 91.88 112.34 93.5 114.01 95.15C115.67 96.8 117.26 98.47 118.81 100.17C120.36 101.86 121.84 103.59 123.31 105.33C124.78 107.08 126.2 108.85 127.62 110.64C129.04 112.43 130.44 114.25 131.82 116.08C133.21 117.91 134.58 119.77 135.93 121.64C137.29 123.51 138.63 125.41 139.95 127.31C141.27 129.22 142.58 131.15 143.88 133.09C145.17 135.03 146.45 136.99 147.71 138.97C148.97 140.94 150.22 142.93 151.45 144.92C152.68 146.92 153.9 148.94 155.1 150.96C156.3 152.98 157.49 155.02 158.66 157.06C159.83 159.11 160.98 161.16 162.12 163.23C163.25 165.29 164.38 167.36 165.47 169.44C166.56 171.52 167.64 173.61 168.67 175.71C169.71 177.81 170.72 179.91 171.7 182.02C172.67 184.14 173.6 186.26 174.51 188.38C175.42 190.51 176.29 192.64 177.16 194.78C178.03 196.92 178.87 199.07 179.72 201.22C180.58 203.37 181.43 205.53 182.29 207.7C183.15 209.86 184.01 212.03 184.87 214.2C185.74 216.38 186.6 218.56 187.47 220.74C188.34 222.93 189.21 225.11 190.07 227.31C190.94 229.5 191.81 231.7 192.68 233.9C193.55 236.09 194.42 238.3 195.29 240.51C196.15 242.71 197.02 244.92 197.88 247.13C198.74 249.35 199.6 251.56 200.44 253.78C201.28 256 202.12 258.22 202.93 260.44C203.74 262.67 204.54 264.89 205.31 267.12C206.08 269.35 206.83 271.58 207.54 273.82C208.26 276.05 208.94 278.29 209.61 280.53C210.27 282.76 210.9 285.01 211.52 287.25C212.14 289.49 212.74 291.74 213.32 293.99C213.9 296.24 214.47 298.49 215.03 300.74C215.59 303 216.13 305.25 216.68 307.51C217.22 309.77 217.76 312.03 218.3 314.29C218.84 316.56 219.38 318.82 219.92 321.09C220.46 323.36 221.01 325.62 221.55 327.9C222.1 330.17 222.64 332.44 223.18 334.72C223.72 336.99 224.26 339.27 224.79 341.55C225.33 343.83 225.86 346.11 226.38 348.39C226.9 350.67 227.42 352.96 227.93 355.24C228.44 357.53 228.94 359.82 229.43 362.11C229.92 364.4 230.41 366.69 230.88 368.99C231.35 371.28 231.81 373.57 232.26 375.87C232.71 378.17 233.16 380.47 233.59 382.77C234.02 385.07 234.45 387.37 234.86 389.67C235.28 391.97 235.68 394.28 236.08 396.58C236.48 398.89 236.87 401.19 237.25 403.5C237.63 405.81 238 408.12 238.36 410.43C238.73 412.74 239.08 415.06 239.43 417.37C239.78 419.68 240.12 422 240.45 424.31C240.78 426.63 241.1 428.94 241.42 431.26C241.74 433.58 242.05 435.9 242.35 438.22C242.65 440.54 242.94 442.86 243.23 445.18C243.52 447.5 243.8 449.83 244.08 452.15C244.35 454.47 244.62 456.8 244.88 459.12C245.14 461.45 245.4 463.78 245.64 466.1C245.89 468.43 246.13 470.76 246.37 473.08C246.6 475.41 246.83 477.74 247.06 480.07C247.28 482.4 247.49 484.73 247.7 487.06C247.91 489.39 248.12 491.72 248.31 494.05C248.51 496.39 248.7 498.72 248.88 501.05C249.07 503.38 249.25 505.72 249.42 508.05C249.59 510.38 249.75 512.72 249.91 515.05C250.06 517.38 250.21 519.72 250.35 522.05C250.49 524.39 250.62 526.72 250.75 529.05C250.87 531.39 250.99 533.72 251.09 536.06C251.2 538.39 251.3 540.73 251.38 543.06C251.47 545.4 251.55 547.73 251.62 550.07C251.69 552.4 251.74 554.74 251.79 557.07C251.84 559.41 251.88 561.74 251.9 564.07C251.93 566.41 251.95 568.74 251.95 571.08C251.96 573.41 251.95 575.74 251.93 578.08C251.91 580.41 251.88 582.74 251.84 585.08C251.79 587.41 251.74 589.74 251.67 592.07C251.6 594.4 251.52 596.73 251.43 599.06C251.33 601.39 251.24 603.72 251.1 606.05C250.95 608.38 250.81 610.71 250.56 613.04C250.31 615.37 250.03 617.7 249.61 620.02C249.18 622.35 248.27 625.84 248 627" fill="none" stroke="#ff0000" stroke-width="3.4" stroke-linejoin="round" stroke-linecap="round"/>
<path d="M143.75 273.75L148.75 228.5L154.4 197.1L160 206.5L163.1 213.4L165.6 214L166.9 220.25L171.25 230.25L175 239L176.9 249L179.4 252.1L181.25 261.5L184.6 277.3L192 275.1L196 276.5L198.7 284.8C199.03 285.93 200.03 289.32 200.68 291.58C201.34 293.84 201.99 296.1 202.63 298.37C203.28 300.63 203.92 302.9 204.55 305.17C205.18 307.44 205.8 309.71 206.42 311.98C207.04 314.25 207.66 316.53 208.26 318.8C208.87 321.08 209.47 323.36 210.07 325.64C210.66 327.92 211.25 330.2 211.83 332.48C212.42 334.76 212.99 337.05 213.56 339.34C214.13 341.62 214.7 343.91 215.26 346.2C215.82 348.49 216.37 350.78 216.91 353.07C217.46 355.37 218 357.66 218.53 359.96C219.06 362.25 219.59 364.55 220.11 366.85C220.63 369.15 221.14 371.45 221.65 373.75C222.16 376.05 222.66 378.36 223.16 380.66C223.65 382.97 224.14 385.27 224.62 387.58C225.1 389.89 225.58 392.2 226.05 394.51C226.52 396.82 226.98 399.13 227.44 401.44C227.89 403.75 228.34 406.07 228.79 408.38C229.23 410.7 229.67 413.01 230.1 415.33C230.53 417.65 230.95 419.97 231.37 422.29C231.79 424.61 232.2 426.93 232.6 429.25C233 431.57 233.4 433.9 233.79 436.22C234.18 438.55 234.57 440.87 234.95 443.2C235.32 445.52 235.69 447.85 236.06 450.18C236.42 452.51 236.78 454.84 237.13 457.17C237.48 459.5 237.82 461.83 238.16 464.16C238.5 466.49 238.83 468.83 239.15 471.16C239.48 473.5 239.79 475.83 240.1 478.17C240.41 480.5 240.72 482.84 241.01 485.18C241.31 487.51 241.6 489.85 241.88 492.19C242.16 494.53 242.44 496.87 242.71 499.21C242.98 501.55 243.24 503.89 243.5 506.23C243.75 508.57 244 510.91 244.24 513.26C244.49 515.6 244.73 517.94 244.96 520.29C245.19 522.63 245.42 524.97 245.64 527.32C245.86 529.66 246.08 532.01 246.29 534.36C246.5 536.7 246.71 539.05 246.91 541.4C247.11 543.74 247.31 546.09 247.5 548.44C247.7 550.79 247.89 553.13 248.07 555.48C248.26 557.83 248.44 560.18 248.62 562.53C248.8 564.88 248.98 567.23 249.15 569.58C249.33 571.93 249.5 574.28 249.67 576.63C249.83 578.98 250 581.33 250.16 583.68C250.32 586.03 250.47 588.38 250.61 590.73C250.75 593.08 250.88 595.43 250.98 597.78C251.09 600.13 251.18 602.49 251.25 604.84C251.31 607.19 251.36 609.54 251.37 611.89C251.38 614.24 251.36 616.59 251.3 618.95C251.24 621.3 251.05 624.82 251 626" fill="none" stroke="#ff00ff" stroke-width="3.4" stroke-linejoin="round" stroke-linecap="round"/>
<path d="M130 226.5L135.6 228.4L137.5 229L140.6 228.4C141.07 229.47 142.47 232.68 143.39 234.82C144.32 236.97 145.24 239.11 146.16 241.26C147.08 243.41 147.99 245.56 148.9 247.72C149.81 249.87 150.72 252.03 151.62 254.19C152.52 256.34 153.42 258.51 154.31 260.67C155.2 262.83 156.09 265 156.97 267.16C157.85 269.33 158.73 271.5 159.6 273.68C160.47 275.85 161.34 278.02 162.2 280.2C163.07 282.38 163.92 284.56 164.78 286.74C165.63 288.92 166.48 291.1 167.32 293.29C168.17 295.48 169 297.66 169.84 299.85C170.67 302.04 171.5 304.24 172.32 306.43C173.14 308.63 173.96 310.82 174.77 313.02C175.59 315.22 176.39 317.42 177.2 319.62C178 321.83 178.79 324.03 179.59 326.24C180.38 328.45 181.16 330.66 181.94 332.87C182.72 335.08 183.5 337.29 184.26 339.51C185.03 341.72 185.8 343.94 186.55 346.16C187.31 348.38 188.06 350.6 188.81 352.82C189.55 355.05 190.3 357.27 191.03 359.5C191.76 361.73 192.49 363.96 193.21 366.19C193.94 368.42 194.65 370.65 195.36 372.89C196.07 375.12 196.78 377.36 197.48 379.59C198.18 381.83 198.87 384.07 199.55 386.31C200.24 388.56 200.92 390.8 201.59 393.05C202.27 395.29 202.93 397.54 203.59 399.79C204.25 402.04 204.91 404.29 205.56 406.54C206.2 408.79 206.85 411.05 207.48 413.3C208.12 415.56 208.74 417.81 209.36 420.07C209.99 422.33 210.6 424.59 211.21 426.85C211.82 429.12 212.42 431.38 213.01 433.65C213.61 435.91 214.2 438.18 214.78 440.45C215.36 442.72 215.93 444.99 216.5 447.26C217.07 449.53 217.63 451.8 218.18 454.08C218.74 456.35 219.28 458.63 219.82 460.91C220.36 463.18 220.89 465.46 221.42 467.74C221.94 470.02 222.46 472.3 222.97 474.59C223.48 476.87 223.98 479.16 224.48 481.44C224.97 483.73 225.46 486.02 225.94 488.3C226.42 490.59 226.9 492.88 227.36 495.17C227.83 497.47 228.29 499.76 228.74 502.05C229.19 504.35 229.63 506.64 230.07 508.94C230.5 511.23 230.93 513.53 231.35 515.83C231.77 518.13 232.18 520.43 232.59 522.73C232.99 525.03 233.39 527.34 233.78 529.64C234.17 531.94 234.55 534.25 234.92 536.56C235.29 538.86 235.66 541.17 236.01 543.48C236.37 545.79 236.72 548.09 237.06 550.4C237.4 552.72 237.73 555.03 238.06 557.34C238.38 559.65 238.7 561.97 239 564.28C239.31 566.6 239.61 568.91 239.9 571.23C240.19 573.54 240.47 575.86 240.75 578.18C241.02 580.5 241.28 582.82 241.55 585.14C241.82 587.46 242.08 589.78 242.35 592.1C242.62 594.43 242.89 596.75 243.17 599.07C243.46 601.4 243.75 603.72 244.06 606.05C244.38 608.37 244.7 610.7 245.05 613.03C245.41 615.35 245.78 617.68 246.19 620.01C246.6 622.34 247.28 625.84 247.5 627" fill="none" stroke="#000080" stroke-width="3.4" stroke-linejoin="round" stroke-linecap="round"/>
<path d="M125.6 209.6C126.7 209.14 129.97 206.25 132.21 206.82C134.44 207.39 136.89 211.86 139.03 213.01C141.18 214.17 143.24 212.76 145.07 213.74C146.9 214.71 148.48 217 150.01 218.84C151.54 220.69 152.92 222.81 154.24 224.83C155.56 226.84 156.77 228.87 157.92 230.92C159.07 232.96 160.13 235.03 161.15 237.11C162.16 239.18 163.1 241.28 164.02 243.39C164.93 245.5 165.78 247.62 166.63 249.76C167.47 251.89 168.27 254.04 169.07 256.2C169.88 258.36 170.67 260.53 171.45 262.71C172.24 264.89 173.02 267.08 173.79 269.28C174.56 271.48 175.33 273.69 176.09 275.9C176.85 278.12 177.6 280.34 178.35 282.57C179.09 284.8 179.83 287.03 180.57 289.27C181.3 291.51 182.03 293.75 182.75 296C183.47 298.24 184.19 300.49 184.9 302.75C185.6 305 186.31 307.25 187 309.51C187.7 311.76 188.39 314.02 189.07 316.27C189.76 318.53 190.44 320.79 191.11 323.04C191.78 325.3 192.45 327.56 193.11 329.82C193.77 332.08 194.42 334.34 195.07 336.61C195.72 338.87 196.37 341.13 197 343.4C197.64 345.66 198.27 347.93 198.9 350.19C199.53 352.46 200.15 354.73 200.77 357C201.39 359.27 202 361.54 202.61 363.81C203.21 366.08 203.81 368.35 204.41 370.62C205.01 372.9 205.6 375.17 206.19 377.44C206.78 379.72 207.36 381.99 207.94 384.27C208.52 386.55 209.09 388.83 209.66 391.11C210.23 393.38 210.79 395.66 211.35 397.94C211.91 400.23 212.47 402.51 213.02 404.79C213.57 407.07 214.12 409.36 214.67 411.64C215.21 413.93 215.75 416.21 216.28 418.5C216.82 420.79 217.35 423.08 217.88 425.36C218.41 427.65 218.93 429.94 219.46 432.23C219.98 434.53 220.49 436.82 221.01 439.11C221.52 441.4 222.03 443.7 222.54 445.99C223.05 448.29 223.55 450.58 224.05 452.88C224.55 455.18 225.05 457.48 225.54 459.77C226.03 462.07 226.52 464.37 227 466.67C227.48 468.98 227.96 471.28 228.42 473.58C228.89 475.88 229.35 478.19 229.8 480.49C230.25 482.8 230.69 485.1 231.12 487.41C231.55 489.72 231.98 492.02 232.39 494.33C232.8 496.64 233.2 498.95 233.59 501.26C233.98 503.57 234.35 505.89 234.72 508.2C235.08 510.51 235.43 512.83 235.76 515.14C236.1 517.46 236.42 519.77 236.72 522.09C237.02 524.4 237.31 526.72 237.59 529.04C237.86 531.36 238.11 533.68 238.35 536C238.58 538.32 238.8 540.64 239 542.97C239.2 545.29 239.38 547.61 239.55 549.94C239.73 552.26 239.88 554.59 240.03 556.91C240.18 559.24 240.32 561.57 240.47 563.9C240.61 566.22 240.74 568.55 240.89 570.88C241.03 573.21 241.17 575.55 241.33 577.88C241.48 580.21 241.64 582.54 241.82 584.88C241.99 587.21 242.18 589.55 242.38 591.88C242.59 594.22 242.81 596.56 243.06 598.9C243.31 601.23 243.58 603.57 243.88 605.91C244.19 608.25 244.51 610.6 244.88 612.94C245.24 615.28 245.63 617.62 246.07 619.97C246.51 622.31 247.26 625.83 247.5 627" fill="none" stroke="#800080" stroke-width="3.4" stroke-linejoin="round" stroke-linecap="round"/>
<path d="M107.5 180L108.75 178.75L112.5 176.25L142.5 175C142.97 176.06 144.39 179.25 145.33 181.38C146.26 183.52 147.18 185.65 148.1 187.79C149.01 189.92 149.92 192.06 150.82 194.2C151.71 196.35 152.6 198.49 153.48 200.64C154.36 202.79 155.23 204.94 156.1 207.09C156.96 209.25 157.82 211.4 158.66 213.56C159.51 215.72 160.35 217.88 161.18 220.04C162.01 222.21 162.83 224.37 163.64 226.54C164.46 228.71 165.26 230.88 166.06 233.06C166.86 235.23 167.65 237.41 168.44 239.59C169.22 241.77 170 243.95 170.76 246.13C171.53 248.32 172.29 250.5 173.05 252.69C173.8 254.88 174.55 257.07 175.29 259.26C176.03 261.46 176.76 263.65 177.49 265.85C178.21 268.05 178.93 270.25 179.64 272.45C180.36 274.65 181.06 276.86 181.76 279.06C182.46 281.27 183.15 283.48 183.84 285.69C184.52 287.9 185.2 290.11 185.88 292.33C186.55 294.54 187.22 296.76 187.88 298.98C188.54 301.2 189.19 303.42 189.84 305.64C190.49 307.87 191.13 310.09 191.77 312.32C192.41 314.54 193.04 316.77 193.67 319C194.29 321.23 194.91 323.47 195.53 325.7C196.14 327.94 196.75 330.17 197.36 332.41C197.96 334.65 198.56 336.89 199.16 339.13C199.75 341.37 200.34 343.61 200.92 345.86C201.51 348.1 202.09 350.35 202.66 352.6C203.24 354.84 203.81 357.09 204.37 359.35C204.94 361.6 205.5 363.85 206.06 366.1C206.61 368.36 207.16 370.61 207.71 372.87C208.26 375.13 208.8 377.39 209.34 379.65C209.88 381.91 210.41 384.17 210.94 386.43C211.47 388.69 211.99 390.96 212.51 393.22C213.03 395.49 213.54 397.76 214.05 400.03C214.56 402.29 215.07 404.56 215.57 406.83C216.07 409.1 216.56 411.38 217.05 413.65C217.54 415.92 218.02 418.2 218.5 420.47C218.98 422.75 219.46 425.02 219.92 427.3C220.39 429.58 220.86 431.86 221.31 434.14C221.77 436.42 222.23 438.7 222.67 440.98C223.12 443.26 223.56 445.55 224 447.83C224.44 450.11 224.87 452.4 225.29 454.68C225.72 456.97 226.14 459.26 226.55 461.54C226.97 463.83 227.38 466.12 227.78 468.41C228.18 470.7 228.57 472.99 228.96 475.28C229.35 477.57 229.73 479.86 230.11 482.15C230.48 484.44 230.85 486.73 231.2 489.03C231.56 491.32 231.91 493.61 232.25 495.91C232.6 498.2 232.93 500.5 233.26 502.79C233.58 505.09 233.9 507.39 234.21 509.68C234.51 511.98 234.81 514.28 235.1 516.57C235.39 518.87 235.67 521.17 235.94 523.47C236.21 525.77 236.47 528.06 236.72 530.36C236.97 532.66 237.21 534.96 237.44 537.26C237.66 539.56 237.88 541.86 238.09 544.16C238.3 546.46 238.49 548.76 238.69 551.06C238.88 553.36 239.07 555.67 239.25 557.97C239.44 560.27 239.62 562.57 239.8 564.87C239.99 567.17 240.17 569.47 240.36 571.78C240.55 574.08 240.75 576.38 240.95 578.68C241.15 580.98 241.36 583.28 241.58 585.59C241.8 587.89 242.03 590.19 242.28 592.49C242.53 594.79 242.79 597.09 243.07 599.39C243.35 601.7 243.65 604 243.96 606.3C244.28 608.6 244.62 610.9 244.99 613.2C245.35 615.5 245.74 617.8 246.16 620.1C246.58 622.4 247.28 625.85 247.5 627" fill="none" stroke="#808010" stroke-width="3.4" stroke-linejoin="round" stroke-linecap="round"/>
<path d="M107 189L108.75 182.5L119.4 151.9L127.5 151.9C128.2 152.79 130.25 155.44 131.67 157.24C133.09 159.04 134.57 160.85 136.04 162.69C137.51 164.52 139.01 166.38 140.49 168.24C141.96 170.11 143.45 172 144.88 173.9C146.32 175.8 147.75 177.71 149.1 179.64C150.46 181.57 151.78 183.51 153.03 185.47C154.28 187.42 155.45 189.39 156.59 191.37C157.73 193.36 158.81 195.35 159.87 197.35C160.94 199.35 161.96 201.37 162.98 203.39C164 205.41 164.99 207.45 166 209.49C167.01 211.53 168.02 213.58 169.04 215.63C170.07 217.69 171.1 219.75 172.14 221.82C173.17 223.9 174.22 225.97 175.26 228.06C176.3 230.14 177.34 232.24 178.38 234.34C179.41 236.43 180.45 238.54 181.47 240.65C182.48 242.76 183.5 244.88 184.49 247C185.48 249.13 186.46 251.26 187.43 253.39C188.39 255.53 189.34 257.67 190.27 259.82C191.2 261.96 192.11 264.12 193.01 266.27C193.92 268.43 194.8 270.59 195.67 272.76C196.55 274.92 197.41 277.1 198.25 279.27C199.1 281.45 199.93 283.63 200.75 285.81C201.56 288 202.37 290.18 203.16 292.38C203.96 294.57 204.74 296.76 205.51 298.96C206.28 301.16 207.04 303.36 207.79 305.57C208.53 307.78 209.27 309.98 210 312.2C210.72 314.41 211.44 316.62 212.14 318.84C212.84 321.06 213.53 323.28 214.21 325.5C214.88 327.73 215.55 329.95 216.2 332.18C216.84 334.41 217.48 336.64 218.1 338.88C218.72 341.11 219.32 343.35 219.91 345.59C220.49 347.83 221.06 350.07 221.61 352.31C222.17 354.56 222.7 356.81 223.22 359.06C223.74 361.31 224.23 363.56 224.71 365.81C225.2 368.07 225.66 370.33 226.11 372.59C226.57 374.85 227 377.11 227.44 379.37C227.87 381.64 228.29 383.9 228.72 386.17C229.14 388.44 229.56 390.71 229.98 392.98C230.4 395.26 230.82 397.53 231.25 399.81C231.68 402.09 232.12 404.37 232.56 406.65C233.01 408.93 233.47 411.21 233.93 413.5C234.39 415.78 234.86 418.07 235.32 420.36C235.79 422.65 236.26 424.94 236.72 427.23C237.18 429.52 237.64 431.82 238.08 434.11C238.53 436.41 238.97 438.71 239.39 441.01C239.81 443.31 240.22 445.61 240.61 447.91C241 450.21 241.37 452.52 241.72 454.82C242.06 457.13 242.39 459.43 242.7 461.74C243 464.05 243.29 466.36 243.57 468.67C243.84 470.98 244.1 473.3 244.34 475.61C244.58 477.92 244.81 480.24 245.03 482.56C245.25 484.87 245.45 487.19 245.65 489.51C245.84 491.83 246.03 494.15 246.21 496.47C246.38 498.79 246.55 501.11 246.72 503.43C246.89 505.76 247.05 508.08 247.2 510.4C247.36 512.73 247.51 515.05 247.67 517.38C247.82 519.71 247.97 522.03 248.13 524.36C248.28 526.69 248.44 529.02 248.6 531.35C248.76 533.68 248.92 536.01 249.09 538.34C249.25 540.67 249.43 543 249.61 545.33C249.78 547.66 249.96 550 250.13 552.32C250.29 554.65 250.46 556.98 250.6 559.3C250.74 561.63 250.87 563.95 250.97 566.26C251.07 568.57 251.15 570.88 251.2 573.19C251.24 575.49 251.25 577.79 251.22 580.07C251.19 582.36 251.12 584.64 251 586.91C250.88 589.18 250.71 591.44 250.48 593.69C250.25 595.94 249.97 598.18 249.61 600.41C249.25 602.63 248.86 604.84 248.33 607.04C247.79 609.24 247.2 611.43 246.42 613.59C245.63 615.76 244.74 617.91 243.6 620.05C242.47 622.18 240.27 625.34 239.6 626.4" fill="none" stroke="#2198a0" stroke-width="3.4" stroke-linejoin="round" stroke-linecap="round"/>
<path d="M77.5 67.75L77.5 64.4L79.4 61.9L81.9 60.6L82.5 55L83.1 51.25C84.01 52.04 86.76 54.38 88.54 55.99C90.31 57.59 92.05 59.22 93.76 60.87C95.46 62.52 97.13 64.2 98.76 65.9C100.4 67.59 102 69.31 103.56 71.06C105.13 72.8 106.67 74.56 108.17 76.34C109.68 78.12 111.15 79.93 112.59 81.75C114.04 83.57 115.45 85.41 116.83 87.27C118.22 89.13 119.58 91.01 120.91 92.9C122.24 94.79 123.54 96.71 124.82 98.63C126.1 100.56 127.35 102.51 128.58 104.47C129.81 106.43 131.02 108.4 132.2 110.39C133.39 112.38 134.55 114.39 135.69 116.4C136.83 118.42 137.94 120.45 139.04 122.49C140.14 124.54 141.22 126.59 142.28 128.66C143.35 130.72 144.39 132.8 145.41 134.89C146.44 136.98 147.45 139.08 148.44 141.19C149.43 143.3 150.41 145.41 151.36 147.54C152.32 149.67 153.25 151.81 154.17 153.95C155.09 156.1 155.98 158.25 156.86 160.41C157.74 162.57 158.59 164.74 159.43 166.92C160.26 169.09 161.08 171.28 161.87 173.47C162.66 175.66 163.43 177.85 164.19 180.06C164.94 182.26 165.67 184.47 166.39 186.68C167.1 188.89 167.8 191.11 168.49 193.33C169.18 195.55 169.86 197.78 170.53 200.01C171.2 202.24 171.86 204.48 172.51 206.71C173.17 208.95 173.82 211.19 174.47 213.44C175.12 215.68 175.77 217.92 176.42 220.17C177.07 222.42 177.72 224.67 178.38 226.92C179.04 229.17 179.71 231.42 180.38 233.67C181.05 235.92 181.72 238.18 182.4 240.43C183.08 242.68 183.76 244.94 184.44 247.2C185.12 249.45 185.8 251.71 186.47 253.97C187.15 256.22 187.83 258.48 188.5 260.74C189.17 263 189.84 265.26 190.49 267.52C191.15 269.79 191.81 272.05 192.45 274.31C193.09 276.58 193.73 278.84 194.35 281.11C194.98 283.37 195.6 285.64 196.21 287.9C196.82 290.17 197.42 292.44 198.02 294.71C198.61 296.98 199.2 299.25 199.78 301.52C200.36 303.79 200.93 306.06 201.5 308.33C202.07 310.61 202.63 312.88 203.18 315.15C203.73 317.43 204.28 319.7 204.82 321.98C205.36 324.26 205.9 326.53 206.43 328.81C206.96 331.09 207.48 333.37 207.99 335.65C208.51 337.93 209.02 340.21 209.53 342.49C210.03 344.77 210.53 347.05 211.03 349.34C211.52 351.62 212.01 353.9 212.49 356.19C212.98 358.47 213.45 360.76 213.93 363.05C214.4 365.33 214.87 367.62 215.33 369.91C215.79 372.2 216.25 374.49 216.7 376.78C217.16 379.07 217.6 381.36 218.05 383.65C218.49 385.94 218.93 388.23 219.36 390.53C219.8 392.82 220.23 395.11 220.65 397.41C221.08 399.7 221.5 402 221.92 404.3C222.34 406.59 222.75 408.89 223.16 411.19C223.57 413.49 223.97 415.78 224.38 418.08C224.78 420.38 225.18 422.68 225.57 424.99C225.97 427.29 226.36 429.59 226.75 431.89C227.13 434.19 227.52 436.5 227.9 438.8C228.28 441.11 228.66 443.41 229.04 445.72C229.41 448.02 229.78 450.33 230.15 452.64C230.52 454.94 230.89 457.25 231.25 459.56C231.61 461.87 231.97 464.18 232.33 466.49C232.68 468.8 233.04 471.11 233.38 473.42C233.73 475.74 234.07 478.05 234.4 480.36C234.74 482.68 235.07 484.99 235.39 487.3C235.71 489.62 236.03 491.93 236.34 494.25C236.65 496.57 236.95 498.88 237.25 501.2C237.54 503.52 237.83 505.84 238.11 508.16C238.39 510.48 238.66 512.8 238.92 515.12C239.18 517.44 239.44 519.76 239.68 522.08C239.92 524.4 240.16 526.72 240.38 529.05C240.6 531.37 240.82 533.69 241.02 536.02C241.22 538.34 241.41 540.67 241.59 542.99C241.77 545.32 241.94 547.65 242.1 549.97C242.27 552.3 242.42 554.63 242.57 556.96C242.72 559.29 242.86 561.61 243.01 563.94C243.15 566.27 243.29 568.6 243.43 570.94C243.57 573.27 243.71 575.6 243.85 577.93C244 580.26 244.14 582.6 244.29 584.93C244.44 587.26 244.59 589.6 244.75 591.93C244.91 594.27 245.07 596.6 245.23 598.94C245.4 601.27 245.57 603.61 245.75 605.95C245.92 608.29 246.1 610.62 246.29 612.96C246.48 615.3 246.67 617.64 246.88 619.98C247.08 622.32 247.4 625.83 247.5 627" fill="none" stroke="#10c23f" stroke-width="3.4" stroke-linejoin="round" stroke-linecap="round"/>
<circle cx="131" cy="226" r="2.6" fill="#000080"/>
<circle cx="645" cy="276.5" r="2.3" fill="#1010ff"/>
<path d="M4.8 627.5 V4.2 H925 V628.4" fill="none" stroke="#000" stroke-width="3" stroke-linejoin="miter"/>
<path d="M3.3 627.5 H926.5" stroke="#000" stroke-width="1.9" fill="none"/>
<path d="M4.98 627.5v5.4M53.4 627.5v11.2M101.82 627.5v5.4M150.24 627.5v11.2M198.66 627.5v5.4M247.08 627.5v11.2M295.5 627.5v5.4M343.92 627.5v11.2M392.34 627.5v5.4M440.76 627.5v11.2M489.18 627.5v5.4M537.6 627.5v11.2M586.02 627.5v5.4M634.44 627.5v11.2M682.86 627.5v5.4M731.28 627.5v11.2M779.7 627.5v5.4M828.12 627.5v11.2M876.54 627.5v5.4M924.96 627.5v11.2" stroke="#000" stroke-width="2.4" fill="none"/>
<text class="t" font-size="25.6" text-anchor="middle" transform="translate(53.4 666.2) scale(1.135 1)">-0.4</text>
<text class="t" font-size="25.6" text-anchor="middle" transform="translate(150.24 666.2) scale(1.135 1)">-0.2</text>
<text class="t" font-size="25.6" text-anchor="middle" transform="translate(247.08 666.2) scale(1.135 1)">0.0</text>
<text class="t" font-size="25.6" text-anchor="middle" transform="translate(343.92 666.2) scale(1.135 1)">0.2</text>
<text class="t" font-size="25.6" text-anchor="middle" transform="translate(440.76 666.2) scale(1.135 1)">0.4</text>
<text class="t" font-size="25.6" text-anchor="middle" transform="translate(537.6 666.2) scale(1.135 1)">0.6</text>
<text class="t" font-size="25.6" text-anchor="middle" transform="translate(634.44 666.2) scale(1.135 1)">0.8</text>
<text class="t" font-size="25.6" text-anchor="middle" transform="translate(731.28 666.2) scale(1.135 1)">1.0</text>
<text class="t" font-size="25.6" text-anchor="middle" transform="translate(828.12 666.2) scale(1.135 1)">1.2</text>
<text class="t" font-size="25.6" text-anchor="middle" transform="translate(924.96 666.2) scale(1.135 1)">1.4</text>
<text class="t" font-size="33" text-anchor="middle" transform="translate(301.5 701.6) scale(1.184 1)">Strain (%)</text>
<text class="t" font-size="31.6" text-anchor="middle" transform="translate(348 99.3) scale(1.16 1) rotate(-90)">Stress (MPa)</text>
<text class="a" font-size="24.8" transform="translate(34 63.75) scale(1.05 1)">90</text>
<text class="d" font-size="38" transform="translate(62.43 71.55) scale(1.12 1)">°</text>
<text class="a" font-size="24.8" transform="translate(55.9 108.75) scale(1.05 1)">0</text>
<text class="d" font-size="38" transform="translate(70.78 115.55) scale(1.12 1)">°</text>
<text class="a" font-size="24.8" transform="translate(90.25 155) scale(1.05 1)">75</text>
<text class="d" font-size="38" transform="translate(119.28 163.3) scale(1.12 1)">°</text>
<text class="a" font-size="24.8" transform="translate(81 192.5) scale(1.05 1)">60</text>
<text class="d" font-size="38" transform="translate(109.58 199.95) scale(1.12 1)">°</text>
<text class="a" font-size="24.8" transform="translate(124.9 205) scale(1.05 1)">15</text>
<text class="d" font-size="38" transform="translate(152.68 212.05) scale(1.12 1)">°</text>
<text class="a" font-size="24.8" transform="translate(94 225.9) scale(1.05 1)">45</text>
<text class="d" font-size="38" transform="translate(122.68 233.95) scale(1.12 1)">°</text>
<text class="a" font-size="24.8" transform="translate(95.25 248.4) scale(1.05 1)">30</text>
<text class="d" font-size="38" transform="translate(123.68 256.45) scale(1.12 1)">°</text>
<text class="a" font-size="24.8" transform="translate(784 96.25) scale(1.05 1)">0</text>
<text class="d" font-size="38" transform="translate(797.08 102.75) scale(1.12 1)">°</text>
<text class="a" font-size="24.8" transform="translate(850.9 100) scale(1.05 1)">90</text>
<text class="d" font-size="38" transform="translate(879.18 108.05) scale(1.12 1)">°</text>
<text class="a" font-size="24.8" transform="translate(819.6 158.1) scale(1.05 1)">75</text>
<text class="d" font-size="38" transform="translate(847.68 165.55) scale(1.12 1)">°</text>
<text class="a" font-size="24.8" transform="translate(725.9 169.4) scale(1.05 1)">60</text>
<text class="d" font-size="38" transform="translate(754.48 176.15) scale(1.12 1)">°</text>
<text class="a" font-size="24.8" transform="translate(674 211.9) scale(1.05 1)">45</text>
<text class="d" font-size="38" transform="translate(703.28 219.95) scale(1.12 1)">°</text>
<text class="a" font-size="24.8" transform="translate(721.75 207.5) scale(1.05 1)">15</text>
<text class="d" font-size="38" transform="translate(748.93 214.05) scale(1.12 1)">°</text>
<text class="a" font-size="24.8" transform="translate(729.6 253) scale(1.05 1)">30</text>
<text class="d" font-size="38" transform="translate(757.68 261.15) scale(1.12 1)">°</text>
</svg></body></html>
